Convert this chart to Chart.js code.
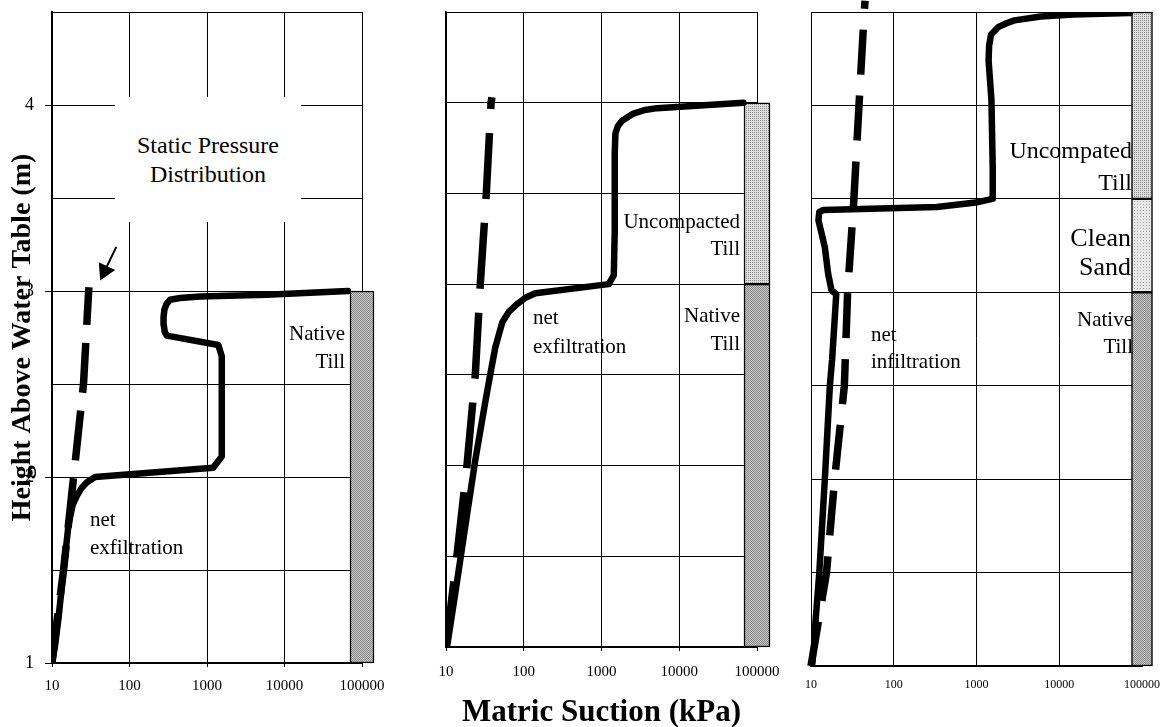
<!DOCTYPE html>
<html>
<head>
<meta charset="utf-8">
<title>Matric suction profiles</title>
<script src="https://cdn.jsdelivr.net/npm/chart.js@4.4.1/dist/chart.umd.min.js"></script>
<style>
  html, body { margin: 0; padding: 0; background: #fff; overflow: hidden; }
  body { width: 1172px; height: 727px; position: relative; font-family: 'Liberation Serif', 'Times New Roman', serif; color: #000; }
  canvas { position: absolute; top: 0; }
  #panel1 { left: 0; }
  #panel2 { left: 400px; }
  #panel3 { left: 780px; }
  .note { position: absolute; font-size: 21px; line-height: 28px; white-space: nowrap; }
  .r { text-align: right; }
</style>
</head>
<body>
<canvas id="panel1" width="395" height="700"></canvas>
<canvas id="panel2" width="395" height="735"></canvas>
<canvas id="panel3" width="392" height="700"></canvas>

<!-- panel 1 notes -->
<div class="note" style="left:115px;top:97px;width:186px;height:125px;background:#fff;font-size:24px;line-height:29px;display:flex;align-items:center;justify-content:center;text-align:center;">Static Pressure<br>Distribution</div>
<div class="note r" style="right:827px;top:319px;">Native<br>Till</div>
<div class="note" style="left:90px;top:505px;">net<br>exfiltration</div>

<!-- panel 2 notes -->
<div class="note r" style="right:432px;top:208px;line-height:27px;">Uncompacted<br>Till</div>
<div class="note r" style="right:432px;top:301px;">Native<br>Till</div>
<div class="note" style="left:533px;top:303px;line-height:29px;">net<br>exfiltration</div>

<!-- panel 3 notes -->
<div class="note r" style="right:40px;top:134px;font-size:24px;line-height:32px;">Uncompated<br>Till</div>
<div class="note r" style="right:41px;top:223px;height:54px;overflow:hidden;font-size:26px;line-height:29px;">Clean<br>Sand</div>
<div class="note r" style="right:39px;top:306px;line-height:27px;">Native<br>Till</div>
<div class="note" style="left:871px;top:321px;line-height:27px;">net<br>infiltration</div>

<script>
Chart.defaults.font.family = "'Liberation Serif', 'Times New Roman', serif";
Chart.defaults.color = '#000';

// axes
const xTicks = [10, 100, 1000, 10000, 100000];
const xTickLabels = ['10', '100', '1000', '10000', '100000'];
const heightTicks = [1, 2, 3, 4];          // labelled on the first panel only
const columnAt = 100000;                    // soil column drawn at the right edge

// panel 1 : native till, net exfiltration   [suction kPa, height m]
const exfil1 = [[10,1],[11,1.1],[12.2,1.25],[14.1,1.5],[16.4,1.75],[18.5,1.85],[21,1.9],[24,1.94],[28,1.97],[36,2.0],
  [1200,2.05],[1550,2.11],[1550,2.65],[1400,2.71],[303,2.76],[285,2.78],[276,2.82],[275,2.86],[282,2.9],[300,2.93],
  [335,2.953],[450,2.962],[813,2.97],[5900,2.98],[66000,3.0]];
const static1 = [[10,1],[11.4,1.2],[14.1,1.5],[19,2.0],[25.5,2.5],[29.7,3.0],[30,3.02]];
const arrow1 = [[67.5,3.237],[47.9,3.108]];
const layers1 = [[1,3]];
const kinds1 = ['native'];

// panel 2 : uncompacted till over native till, net exfiltration
const exfil2 = [[10.3,1],[13.2,1.3],[17.7,1.665],[23.8,2.03],[32,2.35],[37,2.5],[43,2.65],[53,2.79],[65,2.85],
  [82,2.89],[105,2.925],[141,2.95],[1240,3.0],[1440,3.05],[1480,3.3],[1480,3.72],[1510,3.83],[1620,3.87],
  [1840,3.9],[2570,3.94],[3600,3.96],[5200,3.97],[18600,3.985],[67000,4.0]];
const static2 = [[10,1],[13.8,1.5],[18.6,2],[23.8,2.5],[27.6,3],[33,3.5],[38,4],[39,4.03]];
const layers2 = [[1,3],[3,4]];
const kinds2 = ['native','uncompacted'];

// panel 3 : uncompacted till over clean sand over native till, net infiltration
const infil3 = [[10.3,1],[12.6,1.5],[14.7,2.0],[16.9,2.5],[18,2.64],[20.2,2.99],[17.7,3.01],[16.1,3.1],[14.7,3.24],
  [13.5,3.31],[12.3,3.385],[12.6,3.43],[14.1,3.44],[331,3.456],[980,3.48],[1550,3.5],[1570,3.67],[1515,4.03],
  [1400,4.24],[1420,4.32],[1500,4.38],[1840,4.42],[2300,4.44],[2880,4.455],[5970,4.476],[14800,4.487],[71400,4.494]];
const static3 = [[10,1],[15.4,1.5],[19.3,2],[25.3,2.5],[27.7,3],[33,3.5],[38,4],[44,4.5],[45,4.56]];
const layers3 = [[1,3],[3,3.5],[3.5,4.5]];
const kinds3 = ['native','sand','uncompacted'];

function dots(size, dark, light, darkCells) {
  const c = document.createElement('canvas');
  c.width = c.height = size;
  const g = c.getContext('2d');
  g.fillStyle = light;
  g.fillRect(0, 0, size, size);
  g.fillStyle = dark;
  darkCells.forEach(p => g.fillRect(p[0], p[1], 1, 1));
  return g.createPattern(c, 'repeat');
}
const fills = {
  native: dots(2, '#808080', '#d0d0d0', [[0,0],[1,1]]),
  uncompacted: dots(2, '#8a8a8a', '#dedede', [[0,0]]),
  sand: dots(3, '#a0a0a0', '#e8e8e8', [[0,0]])
};

const toXY = pts => pts.map(p => ({x: p[0], y: p[1]}));

function makePanel(id, o) {
  const datasets = [
    { data: toXY(o.solid), showLine: true, borderColor: '#000', borderWidth: 6.5, pointRadius: 0,
      borderCapStyle: 'round', borderJoinStyle: 'round', tension: 0 },
    { data: toXY(o.dashed), showLine: true, borderColor: '#000', borderWidth: 7.5, pointRadius: 0,
      borderDash: o.dash, borderCapStyle: 'butt', clip: o.dashClip }
  ];
  if (o.arrow) {
    datasets.push({ data: toXY(o.arrow), showLine: true, borderColor: '#000', borderWidth: 2,
      pointRadius: [0, 10.5], pointStyle: 'triangle', pointRotation: 205.6,
      pointBackgroundColor: '#000', pointBorderWidth: 0, clip: false });
  }
  datasets.push({
    type: 'bar',
    data: o.layers.map(l => ({x: columnAt, y: l})),
    backgroundColor: o.kinds.map(k => fills[k]),
    borderColor: '#000', borderWidth: 1.5, borderSkipped: false,
    barThickness: o.barWidth, clip: false
  });

  return new Chart(document.getElementById(id), {
    type: 'scatter',
    data: { datasets },
    options: {
      responsive: false,
      animation: false,
      devicePixelRatio: 1,
      layout: { padding: { top: 12, right: o.padRight, left: 0, bottom: 0 } },
      plugins: { legend: { display: false }, tooltip: { enabled: false } },
      scales: {
        x: {
          type: 'logarithmic', min: 10, max: 100000, offset: false,
          afterBuildTicks: s => { s.ticks = xTicks.map(v => ({ value: v })); },
          afterFit: s => { s.height = o.xHeight; },
          grid: { color: '#000', offset: false, drawTicks: o.xTickLen > 0, tickLength: o.xTickLen, tickColor: '#000' },
          border: { color: '#000', width: 2 },
          ticks: { color: '#000', font: { size: o.xFont }, padding: o.xPad, maxRotation: 0, autoSkip: false,
            callback: (v, i) => xTickLabels[i] },
          title: o.xTitle
            ? { display: true, text: o.xTitle, color: '#000', font: { size: 31, weight: 'bold' }, padding: { top: 0, bottom: 3 } }
            : { display: false }
        },
        y: {
          type: 'linear', min: 1, max: 4.5,
          afterFit: s => { s.width = o.yWidth; s.paddingTop = 0; s.paddingBottom = 0; },
          grid: { color: '#000', drawTicks: !!o.yTitle, tickLength: 7,
            tickColor: c => heightTicks.includes(c.tick.value) ? '#000' : 'rgba(0,0,0,0)' },
          border: { color: '#000', width: o.yBorder },
          ticks: { stepSize: 0.5, display: !!o.yTitle, color: '#000', font: { size: 18 }, padding: 11,
            callback: v => heightTicks.includes(v) ? String(v) : '' },
          title: o.yTitle
            ? { display: true, text: o.yTitle, color: '#000', font: { size: 28, weight: 'bold' }, padding: { top: 6, bottom: 0 } }
            : { display: false }
        }
      }
    }
  });
}

makePanel('panel1', {
  solid: exfil1, dashed: static1, arrow: arrow1, layers: layers1, kinds: kinds1,
  dash: [50, 18], dashClip: undefined, barWidth: 24,
  yWidth: 52, padRight: 33, xHeight: 37, xFont: 15, xPad: 10, xTickLen: 4, yBorder: 2,
  yTitle: 'Height Above Water Table (m)'
});
makePanel('panel2', {
  solid: exfil2, dashed: static2, layers: layers2, kinds: kinds2,
  dash: [66, 24], dashClip: undefined, barWidth: 26,
  yWidth: 46, padRight: 38, xHeight: 88, xFont: 15, xPad: 12, xTickLen: 4, yBorder: 1.5,
  xTitle: 'Matric Suction (kPa)'
});
makePanel('panel3', {
  solid: infil3, dashed: static3, layers: layers3, kinds: kinds3,
  dash: [45, 21], dashClip: false, barWidth: 21,
  yWidth: 31, padRight: 23, xHeight: 34, xFont: 12, xPad: 12, xTickLen: 0, yBorder: 1
});
</script>
</body>
</html>
